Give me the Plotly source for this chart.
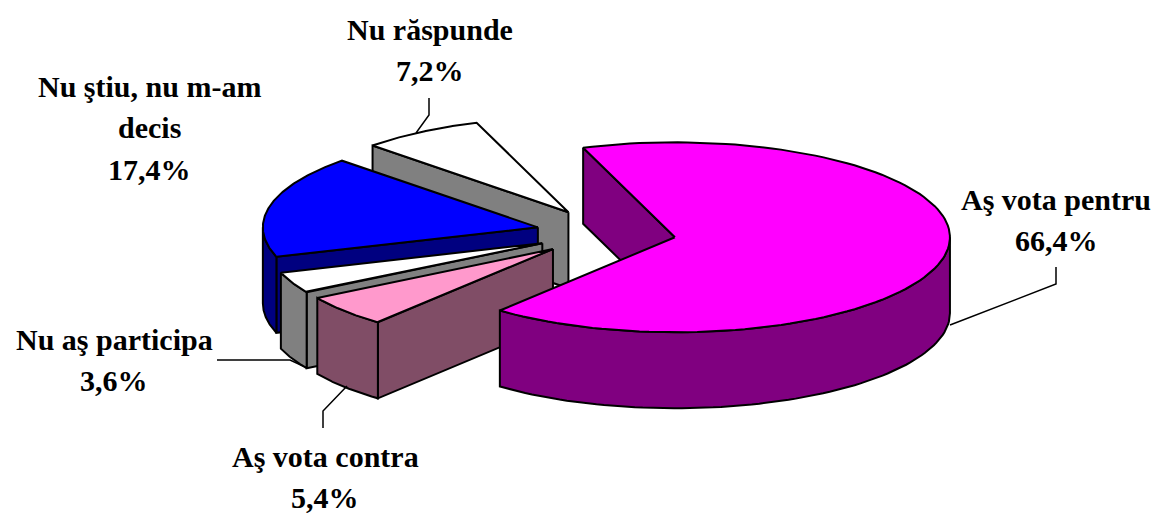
import numpy as np
import plotly.graph_objects as go

# ── Data ──────────────────────────────────────────────────────────────────
categories = ["Aş vota pentru", "Aş vota contra", "Nu aş participa",
              "Nu ştiu, nu m-am decis", "Nu răspunde"]
values = [66.4, 5.4, 3.6, 17.4, 7.2]

# ── Style ─────────────────────────────────────────────────────────────────
top_colors = ["#FF00FF", "#FF99CC", "#FFFFFF", "#0000FF", "#FFFFFF"]
wall_colors = ["#800080", "#804D66", "#808080", "#000080", "#808080"]
label_lines = [["Aş vota pentru"], ["Aş vota contra"], ["Nu aş participa"],
               ["Nu ştiu, nu m-am", "decis"], ["Nu răspunde"]]
label_centers = [(1056, 199), (325, 456), (114, 339), (149, 86), (430, 29)]
label_step = 41.5
leaders = [
    [(1056, 267), (1056, 284), (950, 325)],
    [(323, 428), (323, 411), (347, 386)],
    [(217, 360), (290, 360), (303, 366)],
    [],
    [(429, 98), (429, 115), (416, 133)],
]

CX, CY = 606, 233        # pie centre before the slices are pulled out
RX, RY = 275, 95         # top face radii
PULL_X, PULL_Y = 70, 24.6
DEPTH = 76
START_ANGLE = -19.5      # degrees clockwise from 12 o'clock
EDGE = dict(color="black", width=2)


def point(ax, ay, deg):
    t = np.radians(deg)
    return ax + RX * np.sin(t), ay - RY * np.cos(t)


def add_poly(fig, xs, ys, color):
    fig.add_trace(go.Scatter(
        x=list(xs) + [xs[0]], y=list(ys) + [ys[0]],
        mode="lines", fill="toself", fillcolor=color, line=EDGE,
        hoverinfo="skip", showlegend=False,
    ))


fig = go.Figure()

total = sum(values)
spans = [v / total * 360 for v in values]
starts = [START_ANGLE + sum(spans[:i]) for i in range(len(values))]

# back slices first, the big one ends up on top
for i in reversed(range(len(values))):
    a0, a1 = starts[i], starts[i] + spans[i]
    mid = np.radians((a0 + a1) / 2)
    ax, ay = CX + PULL_X * np.sin(mid), CY - PULL_Y * np.cos(mid)

    # cut wall on the start edge, only when it faces the viewer
    if -np.cos(np.radians(a0 - 90)) > 0:
        px, py = point(ax, ay, a0)
        add_poly(fig, [ax, px, px, ax], [ay, py, py + DEPTH, ay + DEPTH], wall_colors[i])
    # cut wall on the end edge
    if -np.cos(np.radians(a1 + 90)) > 0:
        px, py = point(ax, ay, a1)
        add_poly(fig, [ax, px, px, ax], [ay, py, py + DEPTH, ay + DEPTH], wall_colors[i])

    # rim, the part of the arc on the near side
    r0, r1 = max(a0, 90), min(a1, 270)
    if r1 > r0:
        rx, ry = point(ax, ay, np.linspace(r0, r1, 80))
        add_poly(fig, np.r_[rx, rx[::-1]], np.r_[ry, ry[::-1] + DEPTH], wall_colors[i])

    # top face
    tx, ty = point(ax, ay, np.linspace(a0, a1, 120))
    add_poly(fig, np.r_[ax, tx], np.r_[ay, ty], top_colors[i])

for path in leaders:
    if path:
        fig.add_trace(go.Scatter(
            x=[p[0] for p in path], y=[p[1] for p in path], mode="lines",
            line=dict(color="black", width=1.5), hoverinfo="skip", showlegend=False,
        ))

for lines, value, (lx, ly) in zip(label_lines, values, label_centers):
    text_lines = lines + [f"{value:.1f}%".replace(".", ",")]
    for n, line in enumerate(text_lines):
        fig.add_annotation(
            x=lx, y=ly + n * label_step, text=f"<b>{line}</b>", showarrow=False,
            xanchor="center", yanchor="middle",
            font=dict(family="Liberation Serif", size=30, color="black"),
        )

fig.update_xaxes(range=[0, 1158], visible=False)
fig.update_yaxes(range=[513, 0], visible=False)
fig.update_layout(
    width=1158,
    height=513,
    margin=dict(l=0, r=0, t=0, b=0),
    paper_bgcolor="white",
    plot_bgcolor="white",
    showlegend=False,
)
# the page's default body margin would push the figure 8px in
fig.write_html(
    "out.html",
    config={"displayModeBar": False},
    post_script="document.body.style.margin='0';",
)
